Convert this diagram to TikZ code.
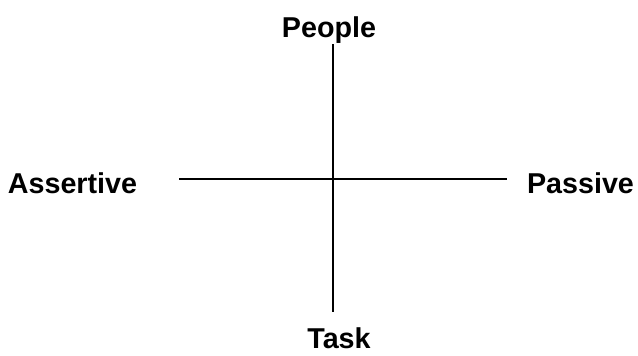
\documentclass[tikz,border=0pt]{standalone}
\usepackage{fontspec}
\setmainfont{Liberation Sans}
\usepackage{tikz}
\usetikzlibrary{positioning}

\begin{document}
\begin{tikzpicture}[x=1pt, y=-1pt, axis/.style={line width=2pt},
    pole/.style={anchor=base, inner sep=0pt, font=\fontsize{28.7}{30}\selectfont\bfseries}]
    \useasboundingbox (0,0) rectangle (638,356);

    \node[pole] (people) at (329,37) {People};
    \node[pole] (task) at (339,348) {Task};
    \node[pole] (assertive) at (72.5,193) {Assertive};
    \node[pole] (passive) at (580.5,193) {Passive};

    \coordinate (top) at (333,44);
    \coordinate (bottom) at (333,312);
    \coordinate (left) at (179,178.5);
    \coordinate (right) at (507,178.5);

    \draw[axis] (top) -- (bottom);
    \draw[axis] (left) -- (right);
\end{tikzpicture}
\end{document}
